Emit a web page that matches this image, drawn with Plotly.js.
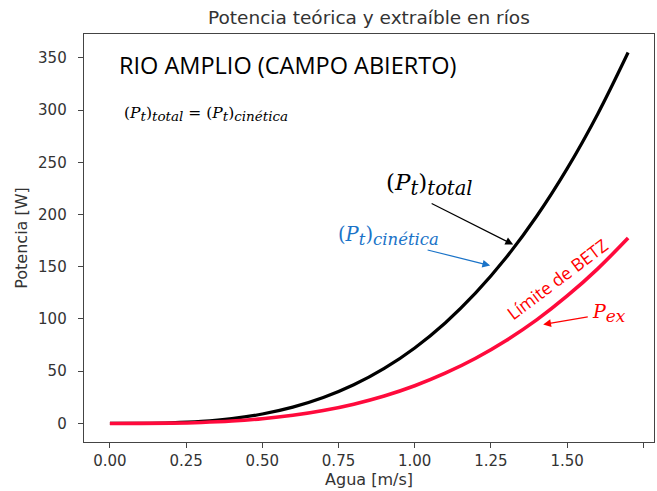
<!DOCTYPE html>
<html>
<head>
<meta charset="utf-8">
<script src="https://cdn.plot.ly/plotly-3.0.1.min.js"></script>
<style>html,body{margin:0;padding:0;background:#fff;}#chart{width:657px;height:491px;}</style>
</head>
<body>
<div id="chart"></div>
<script>
// Water speed [m/s]
const velocidad = [0.0, 0.1, 0.2, 0.3, 0.4, 0.5, 0.6, 0.7, 0.8, 0.9, 1.0, 1.1, 1.2, 1.3, 1.4, 1.5, 1.6, 1.7];
// Total (kinetic) power [W]
const potenciaTotal = [0.0, 0.07, 0.58, 1.95, 4.6, 9.0, 15.6, 24.8, 37.0, 52.7, 72.3, 96.2, 124.9, 158.8, 198.3, 243.9, 296.0, 355.0];
// Extractable power (Betz limit) [W]
const potenciaBetz = [0.0, 0.04, 0.29, 0.98, 2.3, 4.5, 7.8, 12.4, 18.5, 26.3, 36.1, 48.1, 62.4, 79.4, 99.1, 122.0, 148.0, 177.5];
const xTicks = [0, 0.25, 0.5, 0.75, 1.0, 1.25, 1.5, 1.75];
const xTickText = ["0.00", "0.25", "0.50", "0.75", "1.00", "1.25", "1.50", "1.75"];
const yTicks = [0, 50, 100, 150, 200, 250, 300, 350];

const traces = [
  {x: velocidad, y: potenciaTotal, mode: 'lines', line: {color: '#000000', width: 3.2, shape: 'spline'}, hoverinfo: 'skip'},
  {x: velocidad, y: potenciaBetz, mode: 'lines', line: {color: '#ff0a3c', width: 3.6, shape: 'spline'}, hoverinfo: 'skip'}
];

const serif = 'DejaVu Serif, Liberation Serif, serif';
const sans = 'Open Sans, Lato, sans-serif';
const mpl = 'DejaVu Sans, sans-serif';

function pt(subSize, sub) {
  return '(<i>P</i><sub><span style="font-size:' + subSize + 'px"><i>t</i></span></sub>)' +
         '<sub><span style="font-size:' + subSize + 'px"><i>' + sub + '</i></span></sub>';
}

const annotations = [
  {x: 0.023, y: 343, xref: 'x', yref: 'y', xanchor: 'left', yanchor: 'middle', showarrow: false,
   text: 'RIO AMPLIO (CAMPO ABIERTO)', font: {family: sans, size: 23.5, color: '#000'}},
  {x: 0.039, y: 296.5, xref: 'x', yref: 'y', xanchor: 'left', yanchor: 'middle', showarrow: false,
   text: pt(13.5, 'total') + ' = ' + pt(13.5, 'cinética'),
   font: {family: serif, size: 15.5, color: '#000'}},
  {x: 1.05, y: 229, xref: 'x', yref: 'y', xanchor: 'center', yanchor: 'middle', showarrow: false,
   text: pt(19.5, 'total'), font: {family: serif, size: 23, color: '#000'}},
  {x: 0.913, y: 179, xref: 'x', yref: 'y', xanchor: 'center', yanchor: 'middle', showarrow: false,
   text: pt(16.5, 'cinética'), font: {family: serif, size: 19.5, color: '#1a73c8'}},
  {x: 1.467, y: 138, xref: 'x', yref: 'y', xanchor: 'center', yanchor: 'middle', showarrow: false, textangle: -37,
   text: 'Límite de BETZ', font: {family: sans, size: 17.5, color: '#ff0000'}},
  {x: 1.638, y: 106, xref: 'x', yref: 'y', xanchor: 'center', yanchor: 'middle', showarrow: false,
   text: '<i>P</i><sub><span style="font-size:17px"><i>ex</i></span></sub>', font: {family: serif, size: 19, color: '#ff0000'}},
  // arrows
  {x: 1.323, y: 171.2, ax: 1.0506, ay: 211.3, xref: 'x', yref: 'y', axref: 'x', ayref: 'y', text: '', showarrow: true,
   arrowhead: 2, arrowsize: 1.3, arrowwidth: 1.2, arrowcolor: '#000'},
  {x: 1.2476, y: 151.1, ax: 1.0374, ay: 166.4, xref: 'x', yref: 'y', axref: 'x', ayref: 'y', text: '', showarrow: true,
   arrowhead: 2, arrowsize: 1.3, arrowwidth: 1.2, arrowcolor: '#1a73c8'},
  {x: 1.4215, y: 94.7, ax: 1.5726, ay: 102.3, xref: 'x', yref: 'y', axref: 'x', ayref: 'y', text: '', showarrow: true,
   arrowhead: 2, arrowsize: 1.3, arrowwidth: 1.2, arrowcolor: '#ff0000'}
];

const layout = {
  width: 657, height: 491,
  margin: {l: 84, r: 3, t: 34, b: 49},
  paper_bgcolor: '#ffffff', plot_bgcolor: '#ffffff',
  showlegend: false,
  title: {text: 'Potencia teórica y extraíble en ríos', x: 0.5615, xanchor: 'center', y: 0.965, yanchor: 'middle',
          font: {family: mpl, size: 18.5, color: '#333'}},
  xaxis: {range: [-0.085, 1.785], tickvals: xTicks, ticktext: xTickText, ticks: 'outside', ticklen: 5, tickwidth: 1,
          tickcolor: '#444', showgrid: false, zeroline: false, showline: true, mirror: true, linecolor: '#444', linewidth: 1.3,
          tickfont: {family: mpl, size: 15, color: '#333'},
          title: {text: 'Agua [m/s]', font: {family: mpl, size: 16, color: '#333'}, standoff: 1}},
  yaxis: {range: [-17.75, 372.75], tickvals: yTicks, ticks: 'outside', ticklen: 5, tickwidth: 1, ticklabelstandoff: 8,
          tickcolor: '#444', showgrid: false, zeroline: false, showline: true, mirror: true, linecolor: '#444', linewidth: 1.3,
          tickfont: {family: mpl, size: 15, color: '#333'},
          title: {text: 'Potencia [W]', font: {family: mpl, size: 16, color: '#333'}, standoff: 6}},
  annotations: annotations
};

Plotly.newPlot('chart', traces, layout, {displayModeBar: false, staticPlot: true});
</script>
</body>
</html>
